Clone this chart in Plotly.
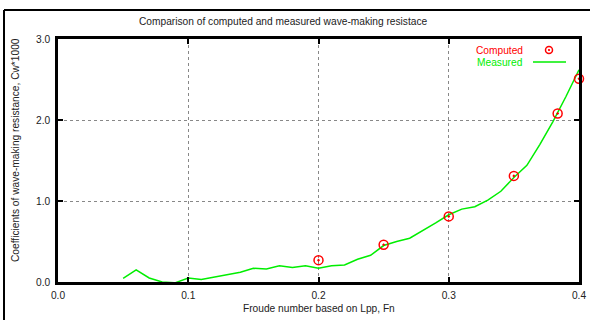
import plotly.graph_objects as go

# ---- data ----
computed_fn = [0.20, 0.25, 0.30, 0.35, 0.3836, 0.40]
computed_cw = [0.27, 0.46, 0.81, 1.31, 2.08, 2.51]

measured_fn = [0.05, 0.06, 0.07, 0.08, 0.09, 0.10, 0.11, 0.12, 0.13, 0.14,
               0.15, 0.16, 0.17, 0.18, 0.19, 0.20, 0.21, 0.22, 0.23, 0.24,
               0.25, 0.26, 0.27, 0.28, 0.29, 0.30, 0.31, 0.32, 0.33, 0.34,
               0.35, 0.36, 0.37, 0.38, 0.39, 0.40]
measured_cw = [0.045, 0.15, 0.05, 0.00, -0.01, 0.05, 0.03, 0.06, 0.09, 0.12,
               0.17, 0.16, 0.20, 0.18, 0.20, 0.17, 0.20, 0.21, 0.28, 0.33,
               0.45, 0.50, 0.54, 0.63, 0.73, 0.83, 0.90, 0.93, 1.01, 1.12,
               1.29, 1.44, 1.70, 1.98, 2.29, 2.62]

x_ticks = [0.0, 0.1, 0.2, 0.3, 0.4]
x_tick_labels = ["0.0", "0.1", "0.2", "0.3", "0.4"]
y_ticks = [0.0, 1.0, 2.0, 3.0]
y_tick_labels = ["0.0", "1.0", "2.0", "3.0"]

RED = "#ff0000"
GREEN = "#00ee00"
TXT = "#222222"
FONT = "Liberation Sans, Arial, sans-serif"
FS = 10.2

fig = go.Figure()
fig.add_trace(go.Scatter(
    x=measured_fn, y=measured_cw, mode="lines", name="Measured",
    line=dict(color=GREEN, width=1.5), showlegend=False))
fig.add_trace(go.Scatter(
    x=computed_fn, y=computed_cw, mode="markers", name="Computed",
    marker=dict(symbol="circle-open-dot", size=9, color=RED,
                line=dict(color=RED, width=1.5)),
    cliponaxis=False, showlegend=False))

W, H = 590, 320
L, R, T, B = 58, 11, 39, 38
pw, ph = W - L - R, H - T - B


def px(xp):
    return (xp - L) / pw


def py(yp):
    return (H - B - yp) / ph


axis_common = dict(showline=True, linecolor="black", linewidth=2.5, mirror="ticks",
                   ticks="inside", ticklen=5, tickwidth=2, tickcolor="black",
                   showgrid=True, gridcolor="#888888", griddash="dot", gridwidth=1,
                   zeroline=False, automargin=False,
                   tickfont=dict(family=FONT, size=FS, color=TXT))

fig.update_layout(
    width=W, height=H, autosize=False,
    margin=dict(l=L, r=R, t=T, b=B, pad=0),
    paper_bgcolor="white", plot_bgcolor="white",
    font=dict(family=FONT, size=FS, color=TXT),
    xaxis=dict(range=[0, 0.4], tickvals=x_ticks, ticktext=x_tick_labels,
               ticklabelstandoff=2, **axis_common),
    yaxis=dict(range=[0, 3.0], tickvals=y_ticks, ticktext=y_tick_labels,
               ticklabelstandoff=3, **axis_common),
    showlegend=False,
)

def note(text, x, y, color=TXT, xanchor="center", angle=0):
    fig.add_annotation(text=text, xref="paper", yref="paper", x=px(x), y=py(y),
                       xanchor=xanchor, yanchor="middle", textangle=angle,
                       showarrow=False, font=dict(family=FONT, size=FS, color=color))

# titles
note("Comparison of computed and measured wave-making resistace", 283, 22)
note("Froude number based on Lpp, Fn", 319, 308)
note("Coefficients of wave-making resistance, Cw*1000", 15, 150, angle=-90)

# outer frame (top and left edges visible)
fig.add_shape(type="line", xref="paper", yref="paper",
              x0=px(4), y0=py(10), x1=px(590), y1=py(10),
              line=dict(color="black", width=2), layer="above")
fig.add_shape(type="line", xref="paper", yref="paper",
              x0=px(4), y0=py(10), x1=px(4), y1=py(320),
              line=dict(color="black", width=2), layer="above")

# legend (gnuplot style: text then key)
note("Computed", 525, 50, color=RED, xanchor="right")
note("Measured", 525, 62, color=GREEN, xanchor="right")
fig.add_shape(type="circle", xref="paper", yref="paper",
              x0=px(545.5), x1=px(552.5), y0=py(53.5), y1=py(46.5),
              line=dict(color=RED, width=1.5))
fig.add_shape(type="circle", xref="paper", yref="paper",
              x0=px(548.3), x1=px(549.7), y0=py(50.7), y1=py(49.3),
              line=dict(color=RED, width=1), fillcolor=RED)
fig.add_shape(type="line", xref="paper", yref="paper",
              x0=px(533), x1=px(566), y0=py(62), y1=py(62),
              line=dict(color=GREEN, width=1.5))

fig.write_html("out.html")
